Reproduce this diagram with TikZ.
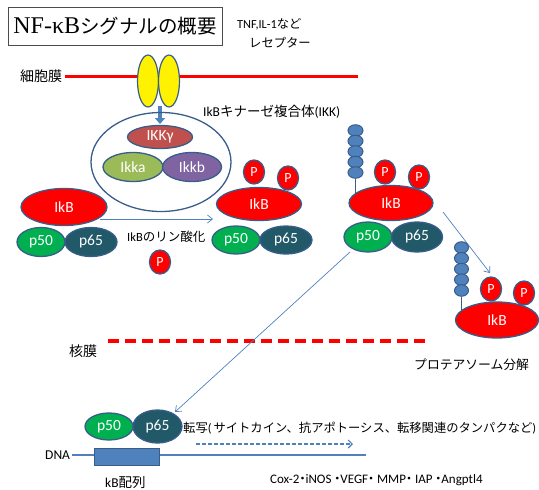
\documentclass[tikz,border=0pt]{standalone}
\usepackage{fontspec}
\setmainfont{Carlito}
\newfontfamily\jp{Noto Sans CJK JP}
\newfontfamily\titleserif{Liberation Serif}
\usetikzlibrary{shapes.geometric,arrows.meta}

\definecolor{edge}{HTML}{385D8A}
\definecolor{lblue}{HTML}{4F81BD}
\definecolor{pfifty}{HTML}{00B050}
\definecolor{psixtyfive}{HTML}{215968}
\definecolor{ikkgcol}{HTML}{C0504D}
\definecolor{ikkacol}{HTML}{9BBB59}
\definecolor{ikkbcol}{HTML}{8064A2}
\definecolor{mred}{HTML}{FF0000}

% narrow Japanese middle dot used in the gene list
\newcommand\jdot{\makebox[6pt]{\jp ・}}

\tikzset{
  blob/.style={ellipse, draw=edge, line width=1.3pt, inner sep=0pt, text=white,
    font=\fontsize{15.5}{17}\selectfont},
  ikb/.style={blob, fill=mred, minimum width=85pt, minimum height=35pt},
  pfiftyblob/.style={blob, fill=pfifty, minimum width=48pt, minimum height=29pt},
  psixtyblob/.style={blob, fill=psixtyfive, minimum width=52pt, minimum height=29pt},
  phos/.style={blob, fill=mred, minimum width=21pt, minimum height=24pt,
    font=\fontsize{14}{15}\selectfont},
  ubq/.style={ellipse, draw=edge, line width=1pt, fill=lblue, inner sep=0pt,
    minimum width=15pt, minimum height=11.5pt},
  thinarrow/.style={draw=lblue, line width=0.7pt, -{Straight Barb[length=5pt,width=8pt]}},
  lbl/.style={inner sep=0pt, anchor=west, font=\fontsize{12.8}{15}\selectfont},
}

\begin{document}
\begin{tikzpicture}[x=1pt,y=-1pt]
\useasboundingbox (0,0) rectangle (539,490);

% title
\node[draw=black!70, line width=0.8pt, minimum width=214pt, minimum height=38pt, inner sep=0pt]
  (title) at (115,26) {{\titleserif\fontsize{24}{28}\selectfont NF-κB}{\jp\fontsize{19.5}{24}\selectfont シグナルの概要}};

% receptor caption
\node[lbl, font=\fontsize{12.3}{14}\selectfont] (tnf) at (237,24) {TNF,IL-1{\jp など}};
\node[lbl, font=\fontsize{12.3}{14}\selectfont] (recep) at (249,43) {\jp レセプター};

% cell membrane
\node[lbl, font=\fontsize{14}{16}\selectfont] (memlbl) at (20,76) {\jp 細胞膜};
\coordinate (memL) at (65,76);
\coordinate (memR) at (358,76);
\draw[mred, line width=3pt] (memL) -- (memR);

% receptor
\node[ellipse, draw=edge, line width=1.2pt, fill=yellow, minimum width=21pt, minimum height=52pt, inner sep=0pt] (r1) at (148,81) {};
\node[ellipse, draw=edge, line width=1.2pt, fill=yellow, minimum width=21pt, minimum height=52pt, inner sep=0pt] (r2) at (169,81) {};
\coordinate (rbot) at (160,106);
\coordinate (ikktop) at (160,124);
\draw[lblue, line width=4pt, -{Triangle[width=10pt,length=6pt]}] (rbot) -- (ikktop);

% IKK complex
\node[ellipse, draw=edge, line width=1.3pt, minimum width=140pt, minimum height=99pt, inner sep=0pt] (ikk) at (161,162) {};
\node[blob, fill=ikkgcol, minimum width=65pt, minimum height=23pt] (ikkg) at (160,137) {IKKγ};
\node[blob, fill=ikkacol, minimum width=60pt, minimum height=29pt] (ikka) at (133,167) {Ikka};
\node[blob, fill=ikkbcol, minimum width=59pt, minimum height=29pt] (ikkb) at (192,167) {Ikkb};
\node[lbl, font=\fontsize{13.5}{15}\selectfont] (ikklbl) at (203,112) {IkB{\jp キナーゼ複合体}(IKK)};

% resting complex
\node[ikb, minimum width=86pt, minimum height=37pt] (ikb1) at (64,207) {IkB};
\node[pfiftyblob] (p50a) at (41,242) {p50};
\node[psixtyblob] (p65a) at (91,242) {p65};

% phosphorylation step
\coordinate (a1s) at (100,219);
\coordinate (a1e) at (213,219);
\draw[thinarrow] (a1s) -- (a1e);
\node[lbl, font=\fontsize{12.5}{14}\selectfont] (phoslbl) at (127,237) {IkB{\jp のリン酸化}};
\node[phos] (pfree) at (160,262) {P};

% phosphorylated complex
\node[phos] (pm1) at (254,172) {P};
\node[phos] (pm2) at (288,178) {P};
\node[ikb, minimum height=33pt] (ikb2) at (259,204) {IkB};
\node[pfiftyblob, minimum height=28pt] (p50b) at (236,240) {p50};
\node[psixtyblob, minimum height=28pt] (p65b) at (286,240) {p65};

% ubiquitinated complex
\foreach \i/\yy in {1/130.5,2/141,3/151.5,4/162,5/172.5}
  \node[ubq] (ua\i) at (355.5,\yy) {};
\node[phos] (pr1) at (385,172) {P};
\node[phos] (pr2) at (419,177) {P};
\node[ikb, minimum width=84pt] (ikb3) at (391,203) {IkB};
\coordinate (ua) at (355.5,194);
\draw[edge, line width=0.8pt] (ua5.south) -- (ua);
\node[pfiftyblob, minimum height=30pt] (p50c) at (368,237) {p50};
\node[psixtyblob, minimum width=51pt, minimum height=30pt] (p65c) at (417,237) {p65};

% degradation branch
\coordinate (a3s) at (443,212);
\coordinate (a3e) at (490,273);
\draw[thinarrow] (a3s) -- (a3e);
\foreach \i/\yy in {1/247.5,2/258.3,3/269,4/279.7,5/290.5}
  \node[ubq, minimum width=14pt] (ub\i) at (461.5,\yy) {};
\node[phos] (pl1) at (491,289) {P};
\node[phos] (pl2) at (524,293) {P};
\node[ikb, minimum width=83pt, minimum height=36pt] (ikb4) at (497,320) {IkB};
\coordinate (ub) at (461.5,310);
\draw[edge, line width=0.8pt] (ub5.south) -- (ub);
\node[lbl] (prot) at (414,365) {\jp プロテアソーム分解};

% nuclear membrane
\node[lbl, font=\fontsize{14}{16}\selectfont] (nmlbl) at (69,351) {\jp 核膜};
\coordinate (nmL) at (108,341);
\coordinate (nmR) at (426,341);
\draw[mred, line width=3.5pt, dash pattern=on 11pt off 6pt] (nmL) -- (nmR);

% translocation to nucleus
\coordinate (a4s) at (350,252);
\coordinate (a4e) at (175,412);
\draw[thinarrow] (a4s) -- (a4e);

% DNA binding
\coordinate (dnaL) at (72,455);
\coordinate (dnaR) at (366,455);
\draw[lblue, line width=2.2pt] (dnaL) -- (dnaR);
\node[lbl, font=\fontsize{13.5}{15}\selectfont] (dnalbl) at (45,455) {DNA};
\node[draw=edge, line width=1pt, fill=lblue, minimum width=65pt, minimum height=17pt, inner sep=0pt] (kb) at (126.5,456.5) {};
\node[lbl, font=\fontsize{13.5}{15}\selectfont] (kblbl) at (105,483) {kB{\jp 配列}};
\node[pfiftyblob, minimum height=27pt] (p50d) at (109,426.5) {p50};
\node[psixtyblob, minimum width=49pt, minimum height=33pt] (p65d) at (157.5,426.5) {p65};

% transcription
\node[lbl, font=\fontsize{12.3}{14}\selectfont] (trans) at (183,428) {{\jp 転写}(\,{\jp サイトカイン、抗アポトーシス、転移関連のタンパクなど})};
\coordinate (dashS) at (196,444);
\coordinate (dashE) at (353,444);
\draw[lblue, line width=1.2pt, dash pattern=on 4pt off 2pt, -{Straight Barb[length=4pt,width=8pt]}] (dashS) -- (dashE);
\node[lbl, font=\fontsize{13}{15}\selectfont] (genes) at (270,480) {Cox-2\jdot iNOS \jdot VEGF\jdot{} MMP\jdot{} IAP \jdot Angptl4};
\end{tikzpicture}
\end{document}
